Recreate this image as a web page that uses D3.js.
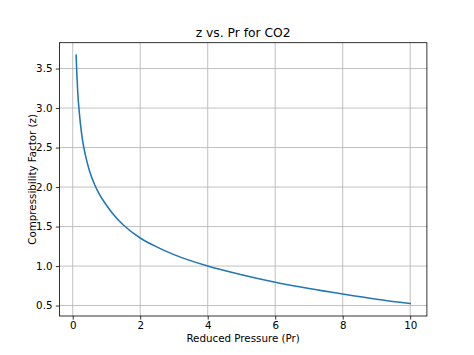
<!DOCTYPE html>
<html>
<head>
<meta charset="utf-8">
<script src="https://cdn.jsdelivr.net/npm/d3@7"></script>
<style>
  html, body { margin: 0; padding: 0; background: #fff; }
  svg { display: block; }
  text { font-family: "DejaVu Sans", sans-serif; fill: #000; }
</style>
</head>
<body>
<div id="chart"></div>
<script>
const title = "z vs. Pr for CO2";
const xLabel = "Reduced Pressure (Pr)";
const yLabel = "Compressibility Factor (z)";
const pr = [0.1, 0.12, 0.15, 0.2, 0.25, 0.3, 0.4, 0.5, 0.65, 0.8, 1.0, 1.25, 1.5, 2, 2.5, 3, 4, 5, 6, 7, 8, 9, 10];
const z  = [3.67, 3.45, 3.19, 2.92, 2.72, 2.57, 2.36, 2.2, 2.03, 1.9, 1.77, 1.63, 1.52, 1.355, 1.24, 1.145, 1.0, 0.89, 0.795, 0.715, 0.645, 0.58, 0.525];
const xTicks = [0, 2, 4, 6, 8, 10];
const yTicks = [0.5, 1.0, 1.5, 2.0, 2.5, 3.0, 3.5];

const W = 474, H = 355;
const m = { left: 59.4, right: W - 426.9, top: 42.7, bottom: H - 316 };
const iw = W - m.left - m.right, ih = H - m.top - m.bottom;

const svg = d3.select("#chart").append("svg").attr("width", W).attr("height", H);
const g = svg.append("g").attr("transform", `translate(${m.left},${m.top})`);

const xMin = d3.min(pr), xMax = d3.max(pr), xPad = (xMax - xMin) * 0.05;
const yMin = d3.min(z), yMax = d3.max(z), yPad = (yMax - yMin) * 0.05;
const x = d3.scaleLinear().domain([xMin - xPad, xMax + xPad]).range([0, iw]);
const y = d3.scaleLinear().domain([yMin - yPad, yMax + yPad]).range([ih, 0]);

// grid
g.append("g").selectAll("line").data(xTicks).join("line")
  .attr("x1", d => x(d)).attr("x2", d => x(d)).attr("y1", 0).attr("y2", ih)
  .attr("stroke", "#b0b0b0").attr("stroke-width", 0.8);
g.append("g").selectAll("line").data(yTicks).join("line")
  .attr("y1", d => y(d)).attr("y2", d => y(d)).attr("x1", 0).attr("x2", iw)
  .attr("stroke", "#b0b0b0").attr("stroke-width", 0.8);

// line
const data = pr.map((p, i) => [p, z[i]]);
g.append("path").datum(data)
  .attr("fill", "none").attr("stroke", "#1f77b4").attr("stroke-width", 1.55)
  .attr("stroke-linejoin", "round").attr("stroke-linecap", "square")
  .attr("d", d3.line().x(d => x(d[0])).y(d => y(d[1])).curve(d3.curveMonotoneX));

// axes
const xAxis = g.append("g").attr("transform", `translate(0,${ih})`)
  .call(d3.axisBottom(x).tickValues(xTicks).tickFormat(d3.format("d")).tickSizeInner(3.6).tickSizeOuter(0).tickPadding(2.1));
const yAxis = g.append("g")
  .call(d3.axisLeft(y).tickValues(yTicks).tickFormat(d3.format(".1f")).tickSizeInner(3.6).tickSizeOuter(0).tickPadding(3.3));
[xAxis, yAxis].forEach(a => {
  a.select(".domain").remove();
  a.selectAll("line").attr("stroke", "#000").attr("stroke-width", 0.8);
  a.selectAll("text").attr("font-size", "10.3px").attr("font-family", "DejaVu Sans, sans-serif").attr("fill", "#000");
});

// spines
g.append("rect").attr("x", 0).attr("y", 0).attr("width", iw).attr("height", ih)
  .attr("fill", "none").attr("stroke", "#000").attr("stroke-width", 0.8);

// title & labels
svg.append("text").attr("x", m.left + iw / 2).attr("y", 36.6)
  .attr("text-anchor", "middle").attr("font-size", "12.3px").text(title);
svg.append("text").attr("x", m.left + iw / 2).attr("y", 341.6)
  .attr("text-anchor", "middle").attr("font-size", "10.3px").text(xLabel);
svg.append("text").attr("transform", `translate(36.3,${m.top + ih / 2}) rotate(-90)`)
  .attr("text-anchor", "middle").attr("font-size", "10.3px").text(yLabel);
</script>
</body>
</html>
